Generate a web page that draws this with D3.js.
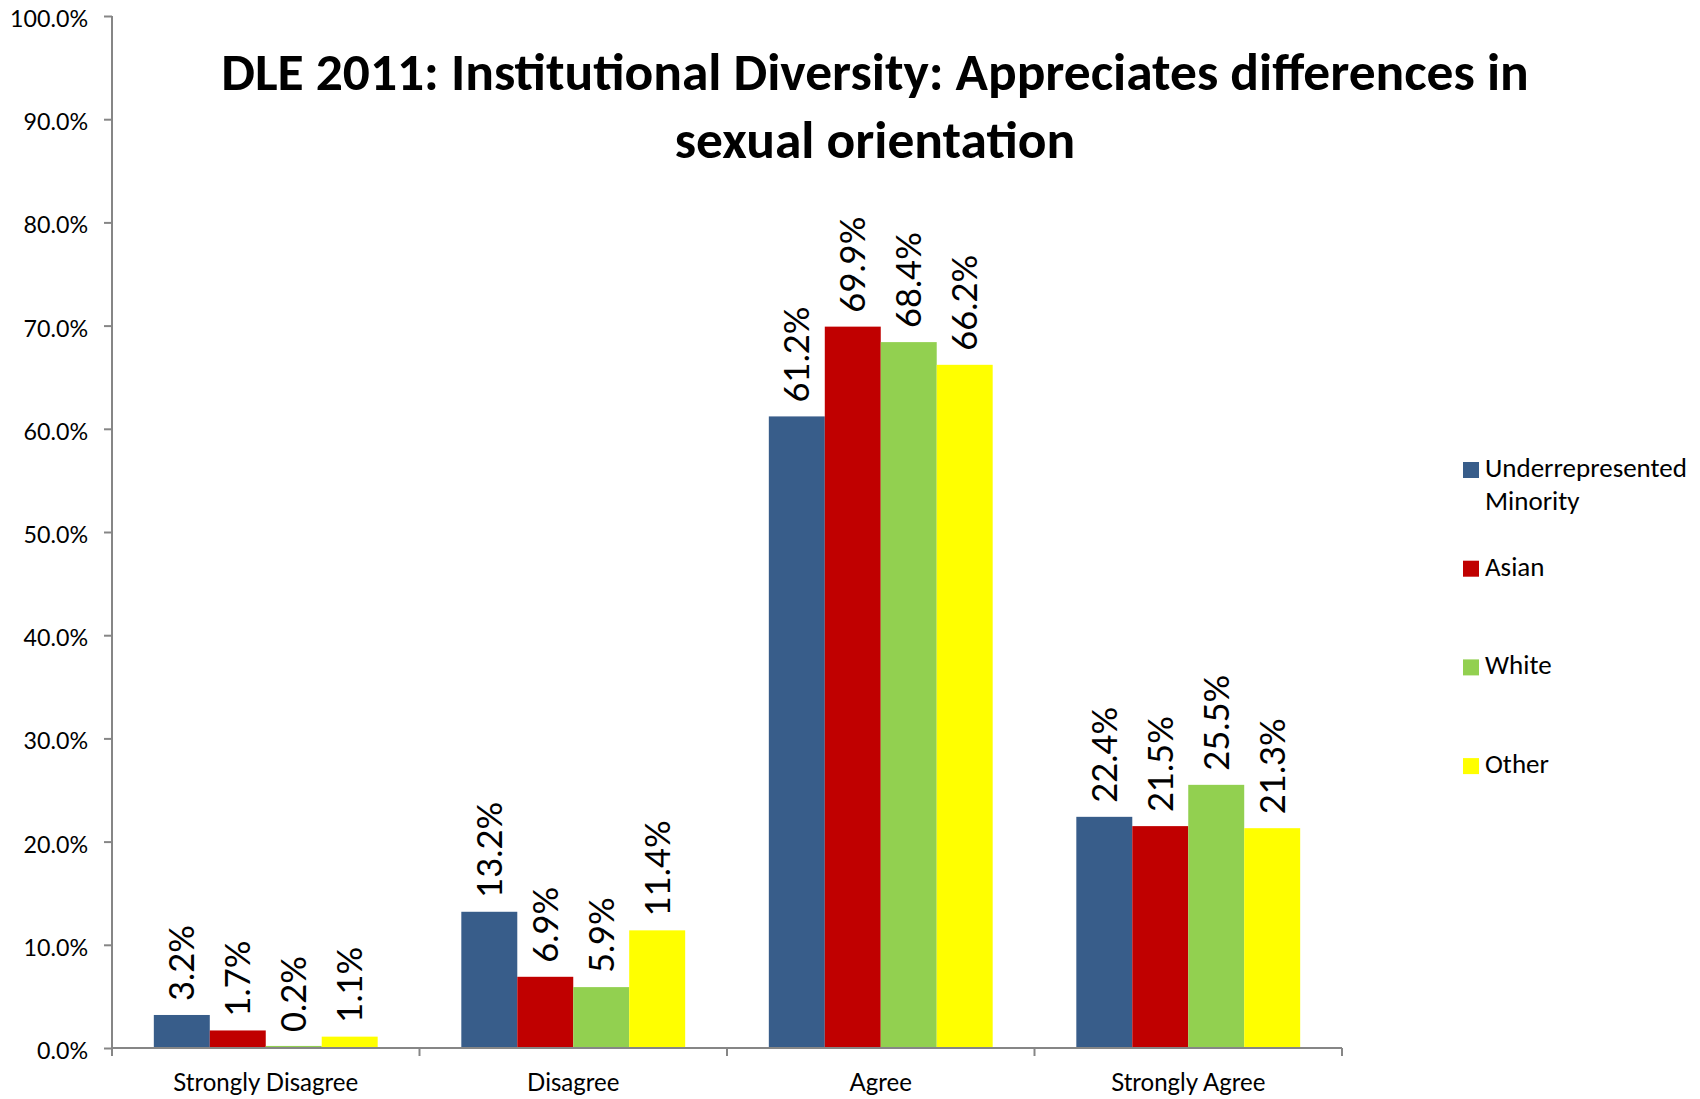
<!DOCTYPE html>
<html>
<head>
<meta charset="utf-8">
<script src="https://cdn.jsdelivr.net/npm/d3@7"></script>
<style>
  body { margin: 0; background: #fff; }
  text { font-family: Carlito, Calibri, Lato, sans-serif; fill: #000; }
</style>
</head>
<body>
<div id="chart"></div>
<script>
// data
var categories = ["Strongly Disagree", "Disagree", "Agree", "Strongly Agree"];
var groups = ["Underrepresented Minority", "Asian", "White", "Other"];
var urm   = [3.2, 13.2, 61.2, 22.4];
var asian = [1.7, 6.9, 69.9, 21.5];
var white = [0.2, 5.9, 68.4, 25.5];
var other = [1.1, 11.4, 66.2, 21.3];
var yTicks = [0, 10, 20, 30, 40, 50, 60, 70, 80, 90, 100];
var colors = ["#385D8A", "#C00000", "#92D050", "#FFFF00"];

var series = [urm, asian, white, other];

var W = 1700, H = 1099;
var plot = { left: 112, right: 1342, top: 16, bottom: 1048 };

var svg = d3.select("#chart").append("svg")
  .attr("width", W)
  .attr("height", H);

// scale font size so the text fits a width measured on the reference
function fit(sel, target) {
  var fs = parseFloat(sel.style("font-size"));
  var len = sel.node().getComputedTextLength();
  sel.style("font-size", (fs * target / len) + "px");
  return fs * target / len;
}

var x0 = d3.scaleBand().domain(categories).range([plot.left, plot.right]);
var gap = x0.bandwidth() * 0.136;
var x1 = d3.scaleBand().domain(d3.range(groups.length))
  .range([gap, x0.bandwidth() - gap]);
var y = d3.scaleLinear().domain([0, 100]).range([plot.bottom, plot.top]);

// ---------- bars ----------
var rows = [];
categories.forEach(function(c, ci) {
  series.forEach(function(s, si) {
    rows.push({ cat: c, g: si, v: s[ci] });
  });
});

svg.append("g").selectAll("rect")
  .data(rows)
  .enter()
  .append("rect")
  .attr("x", function(d) { return x0(d.cat) + x1(d.g); })
  .attr("y", function(d) { return y(d.v); })
  .attr("width", x1.bandwidth())
  .attr("height", function(d) { return y(0) - y(d.v); })
  .style("fill", function(d) { return colors[d.g]; });

// ---------- data labels ----------
var lbl = svg.append("g").selectAll("text")
  .data(rows)
  .enter()
  .append("text")
  .attr("transform", function(d) {
    var cx = x0(d.cat) + x1(d.g) + x1.bandwidth() / 2;
    return "translate(" + cx + "," + (y(d.v) - 14) + ") rotate(-90)";
  })
  .attr("dy", "0.36em")
  .style("font-size", "33px")
  .style("font-family", "Lato, sans-serif")
  .text(function(d) { return d.v.toFixed(1) + "%"; });

var refLbl = lbl.filter(function(d) { return d.v === 69.9; });
var lblSize = fit(refLbl, 96);
lbl.style("font-size", lblSize + "px");

// ---------- axes ----------
var yAxis = d3.axisLeft(y)
  .tickValues(yTicks)
  .tickSize(8)
  .tickPadding(16)
  .tickFormat(function(d) { return d.toFixed(1) + "%"; });

var gY = svg.append("g")
  .attr("transform", "translate(" + plot.left + ",0)")
  .call(yAxis);
gY.selectAll("path, line").attr("stroke", "#868686").attr("stroke-width", 2);
gY.select(".domain").attr("d", "M0," + plot.top + "V" + plot.bottom);
gY.selectAll("text")
  .attr("dy", "0.45em")
  .style("font-size", "22px")
  .style("font-family", "Lato, sans-serif");
var tickSize = fit(gY.selectAll("text").filter(function(d) { return d === 100; }), 78);
gY.selectAll("text").style("font-size", tickSize + "px");

var catTicks = categories.map(function(c) { return x0(c); }).concat([plot.right]);
var gX = svg.append("g");
gX.append("line")
  .attr("x1", plot.left).attr("x2", plot.right)
  .attr("y1", plot.bottom).attr("y2", plot.bottom)
  .attr("stroke", "#868686").attr("stroke-width", 2);
gX.selectAll("line.tick")
  .data(catTicks)
  .enter()
  .append("line")
  .attr("class", "tick")
  .attr("x1", function(d) { return d; }).attr("x2", function(d) { return d; })
  .attr("y1", plot.bottom).attr("y2", plot.bottom + 8)
  .attr("stroke", "#868686").attr("stroke-width", 2);

var catLbl = gX.selectAll("text")
  .data(categories)
  .enter()
  .append("text")
  .attr("x", function(d) { return x0(d) + x0.bandwidth() / 2; })
  .attr("y", 1091)
  .attr("text-anchor", "middle")
  .style("font-size", "22px")
  .style("font-family", "Lato, sans-serif")
  .text(function(d) { return d; });
var catSize = fit(catLbl.filter(function(d) { return d === "Strongly Disagree"; }), 185);
catLbl.style("font-size", catSize + "px");

// ---------- title ----------
var title = svg.append("g").attr("text-anchor", "middle")
  .style("font-family", "Lato, sans-serif")
  .style("font-weight", "bold");
var t1 = title.append("text")
  .attr("x", 875).attr("y", 90)
  .style("font-size", "44px")
  .text("DLE 2011: Institutional Diversity: Appreciates differences in");
var titleSize = fit(t1, 1308);
title.append("text")
  .attr("x", 875).attr("y", 158)
  .style("font-size", titleSize + "px")
  .text("sexual orientation");

// ---------- legend ----------
var legend = svg.append("g").style("font-family", "Lato, sans-serif");
var leg = legend.selectAll("g")
  .data(groups)
  .enter()
  .append("g")
  .attr("transform", function(d, i) {
    return "translate(1463," + (462 + i * 98.7) + ")";
  });
leg.append("rect")
  .attr("width", 16).attr("height", 16)
  .style("fill", function(d, i) { return colors[i]; });
var legText = leg.append("text")
  .attr("x", 22).attr("y", 15)
  .style("font-size", "22px");
legText.each(function(d) {
  var words = d === "Underrepresented Minority" ? ["Underrepresented", "Minority"] : [d];
  d3.select(this).selectAll("tspan")
    .data(words)
    .enter()
    .append("tspan")
    .attr("x", 22)
    .attr("dy", function(w, i) { return i === 0 ? 0 : 33; })
    .text(function(w) { return w; });
});
var firstSpan = legText.filter(function(d, i) { return i === 0; }).select("tspan");
var legW = firstSpan.node().getComputedTextLength();
legText.style("font-size", (22 * 202 / legW) + "px");
</script>
</body>
</html>
